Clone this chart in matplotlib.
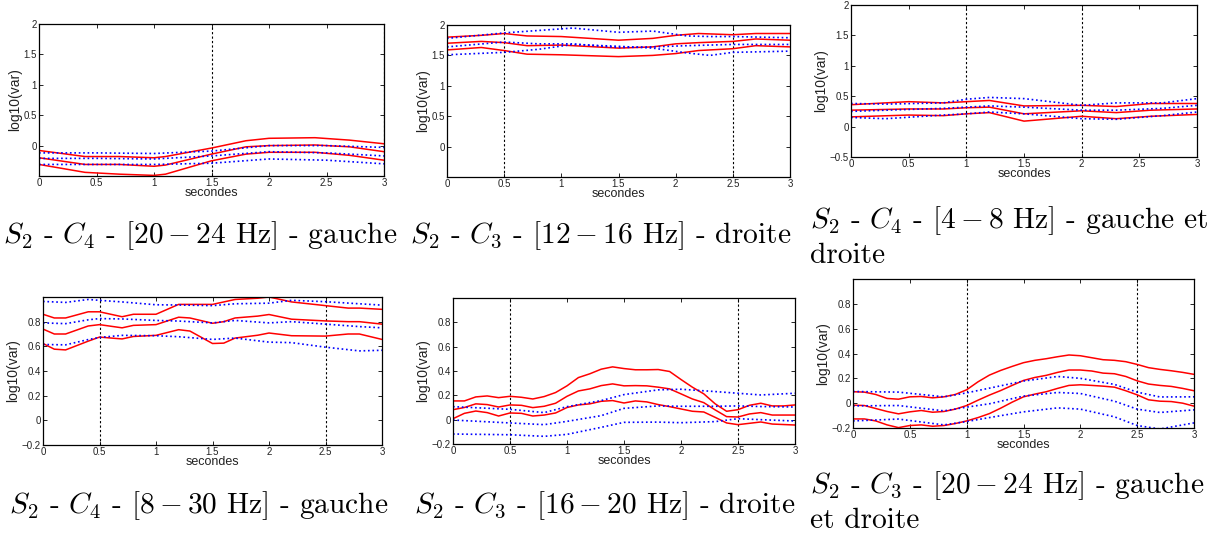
import numpy as np
import matplotlib
matplotlib.use("Agg")
import matplotlib.pyplot as plt

plt.rcParams['mathtext.fontset'] = 'cm'
plt.rcParams['font.family'] = ['Liberation Sans', 'DejaVu Sans']

# ---- panel 1 : S2 - C4 - [20-24 Hz] - gauche
p1_rx = [0, 0.4, 0.7, 1.0, 1.1, 1.5, 1.8, 2.0, 2.4, 2.7, 3.0]
p1_r_top = [-0.08, -0.18, -0.18, -0.20, -0.18, -0.04, 0.08, 0.12, 0.13, 0.09, 0.03]
p1_r_mid = [-0.20, -0.31, -0.31, -0.34, -0.32, -0.14, -0.02, 0.0, 0.01, -0.02, -0.10]
p1_r_bot = [-0.31, -0.44, -0.47, -0.49, -0.47, -0.25, -0.14, -0.11, -0.11, -0.16, -0.24]
p1_bx = [0, 0.5, 1.0, 1.5, 2.0, 2.5, 3.0]
p1_b_top = [-0.12, -0.12, -0.13, -0.09, 0.0, 0.0, -0.03]
p1_b_mid = [-0.21, -0.21, -0.22, -0.17, -0.10, -0.12, -0.17]
p1_b_bot = [-0.31, -0.31, -0.31, -0.29, -0.22, -0.24, -0.30]

# ---- panel 2 : S2 - C3 - [12-16 Hz] - droite
p2_rx = [0, 0.3, 0.5, 0.7, 1.0, 1.5, 1.8, 2.0, 2.2, 2.5, 2.7, 3.0]
p2_r_top = [1.80, 1.83, 1.86, 1.82, 1.81, 1.75, 1.78, 1.83, 1.86, 1.84, 1.86, 1.86]
p2_r_mid = [1.70, 1.73, 1.71, 1.66, 1.67, 1.62, 1.64, 1.69, 1.71, 1.73, 1.77, 1.75]
p2_r_bot = [1.59, 1.63, 1.58, 1.52, 1.51, 1.48, 1.50, 1.53, 1.58, 1.61, 1.66, 1.64]
p2_bx = [0, 0.5, 0.8, 1.1, 1.5, 1.8, 2.1, 2.3, 2.5, 3.0]
p2_b_top = [1.78, 1.87, 1.91, 1.95, 1.88, 1.90, 1.82, 1.81, 1.81, 1.79]
p2_b_mid = [1.64, 1.72, 1.69, 1.69, 1.63, 1.64, 1.66, 1.67, 1.68, 1.68]
p2_b_bot = [1.51, 1.55, 1.60, 1.68, 1.65, 1.62, 1.54, 1.50, 1.55, 1.57]

# ---- panel 3 : S2 - C4 - [4-8 Hz] - gauche et droite
p3_rx = [0, 0.5, 0.8, 1.0, 1.2, 1.5, 2.0, 2.3, 2.6, 3.0]
p3_r_top = [0.36, 0.41, 0.39, 0.41, 0.43, 0.34, 0.35, 0.33, 0.38, 0.38]
p3_r_mid = [0.27, 0.29, 0.29, 0.31, 0.32, 0.21, 0.26, 0.23, 0.27, 0.29]
p3_r_bot = [0.16, 0.19, 0.18, 0.21, 0.23, 0.09, 0.17, 0.13, 0.17, 0.20]
p3_bx = [0, 0.3, 0.8, 1.0, 1.2, 1.5, 2.0, 2.3, 2.7, 3.0]
p3_b_top = [0.38, 0.37, 0.39, 0.45, 0.48, 0.46, 0.35, 0.39, 0.39, 0.46]
p3_b_mid = [0.25, 0.27, 0.30, 0.32, 0.34, 0.32, 0.27, 0.27, 0.30, 0.35]
p3_b_bot = [0.15, 0.13, 0.19, 0.21, 0.24, 0.21, 0.13, 0.12, 0.18, 0.24]

# ---- panel 4 : S2 - C4 - [8-30 Hz] - gauche
p4_rx = [0, 0.1, 0.2, 0.4, 0.5, 0.7, 0.8, 1.0, 1.2, 1.3, 1.5, 1.6, 1.7, 1.9, 2.0, 2.2, 2.5, 2.7, 2.8, 3.0]
p4_r_top = [0.86, 0.83, 0.83, 0.88, 0.88, 0.84, 0.86, 0.86, 0.94, 0.94, 0.94, 0.96, 0.98, 0.99, 1.0, 0.96, 0.93, 0.91, 0.91, 0.90]
p4_r_mid = [0.74, 0.70, 0.70, 0.765, 0.776, 0.75, 0.77, 0.776, 0.836, 0.83, 0.787, 0.80, 0.83, 0.845, 0.858, 0.82, 0.806, 0.80, 0.80, 0.78]
p4_r_bot = [0.623, 0.577, 0.571, 0.642, 0.675, 0.66, 0.68, 0.689, 0.735, 0.724, 0.623, 0.626, 0.667, 0.69, 0.708, 0.686, 0.683, 0.70, 0.70, 0.656]
p4_bx = [0, 0.2, 0.4, 0.5, 0.7, 1.0, 1.2, 1.5, 1.7, 2.0, 2.2, 2.5, 2.8, 3.0]
p4_b_top = [0.964, 0.956, 0.98, 0.973, 0.96, 0.937, 0.935, 0.93, 0.945, 0.95, 0.973, 0.962, 0.945, 0.934]
p4_b_mid = [0.79, 0.784, 0.815, 0.825, 0.822, 0.81, 0.805, 0.79, 0.81, 0.79, 0.80, 0.78, 0.76, 0.75]
p4_b_bot = [0.615, 0.612, 0.655, 0.672, 0.689, 0.686, 0.678, 0.656, 0.667, 0.634, 0.63, 0.593, 0.563, 0.568]

# ---- panel 5 : S2 - C3 - [16-20 Hz] - droite
p5_rx = [0, 0.1, 0.2, 0.3, 0.4, 0.5, 0.6, 0.7, 0.8, 0.9, 1.0, 1.1, 1.2, 1.3, 1.4, 1.5,
         1.6, 1.7, 1.8, 1.9, 2.0, 2.1, 2.2, 2.3, 2.4, 2.5, 2.6, 2.7, 2.8, 2.9, 3.0]
p5_r_top = [0.154, 0.154, 0.187, 0.195, 0.181, 0.192, 0.184, 0.17, 0.19, 0.223, 0.278, 0.346, 0.377, 0.415, 0.434, 0.42,
            0.41, 0.41, 0.412, 0.396, 0.33, 0.267, 0.212, 0.13, 0.069, 0.082, 0.118, 0.135, 0.113, 0.113, 0.121]
p5_r_mid = [0.082, 0.10, 0.13, 0.124, 0.104, 0.121, 0.118, 0.099, 0.11, 0.135, 0.192, 0.236, 0.253, 0.28, 0.294, 0.278,
            0.28, 0.278, 0.267, 0.253, 0.212, 0.17, 0.14, 0.08, 0.025, 0.022, 0.047, 0.058, 0.038, 0.038, 0.038]
p5_r_bot = [0.008, 0.052, 0.071, 0.058, 0.03, 0.055, 0.052, 0.03, 0.038, 0.055, 0.10, 0.121, 0.13, 0.151, 0.157, 0.137,
            0.154, 0.146, 0.124, 0.107, 0.088, 0.069, 0.063, 0.019, -0.027, -0.041, -0.03, -0.019, -0.036, -0.04, -0.044]
p5_bx = [0, 0.5, 0.8, 1.0, 1.3, 1.5, 1.8, 2.0, 2.3, 2.5, 2.7, 3.0]
p5_b_top = [0.107, 0.085, 0.058, 0.107, 0.157, 0.206, 0.245, 0.25, 0.231, 0.217, 0.203, 0.217]
p5_b_mid = [-0.003, -0.027, -0.041, -0.014, 0.033, 0.093, 0.113, 0.11, 0.11, 0.113, 0.108, 0.104]
p5_b_bot = [-0.118, -0.124, -0.137, -0.121, -0.063, -0.022, -0.02, -0.025, -0.016, 0.008, 0.0, -0.011]

# ---- panel 6 : S2 - C3 - [20-24 Hz] - gauche et droite
p6_rx = p5_rx
p6_r_top = [0.092, 0.089, 0.07, 0.038, 0.032, 0.051, 0.054, 0.043, 0.051, 0.07, 0.108, 0.172, 0.226, 0.264, 0.296, 0.326,
            0.345, 0.358, 0.374, 0.388, 0.382, 0.366, 0.35, 0.345, 0.334, 0.312, 0.286, 0.272, 0.261, 0.248, 0.232]
p6_r_mid = [-0.016, -0.019, -0.043, -0.067, -0.086, -0.07, -0.059, -0.073, -0.067, -0.048, -0.019, 0.024, 0.065, 0.102, 0.143, 0.183,
            0.207, 0.224, 0.248, 0.267, 0.267, 0.259, 0.242, 0.237, 0.215, 0.18, 0.154, 0.143, 0.135, 0.119, 0.10]
p6_r_bot = [-0.127, -0.127, -0.143, -0.175, -0.197, -0.18, -0.175, -0.186, -0.18, -0.164, -0.143, -0.116, -0.084, -0.04, 0.008, 0.051,
            0.073, 0.092, 0.119, 0.143, 0.148, 0.143, 0.137, 0.129, 0.10, 0.067, 0.027, 0.016, 0.013, 0.0, -0.024]
p6_bx = [0, 0.4, 0.8, 1.0, 1.2, 1.5, 1.8, 2.0, 2.3, 2.5, 2.7, 3.0]
p6_b_top = [0.094, 0.089, 0.051, 0.083, 0.121, 0.178, 0.215, 0.2, 0.151, 0.089, 0.05, 0.051]
p6_b_mid = [-0.022, -0.019, -0.062, -0.032, -0.005, 0.057, 0.086, 0.078, 0.016, -0.048, -0.075, -0.054]
p6_b_bot = [-0.143, -0.128, -0.175, -0.148, -0.116, -0.07, -0.038, -0.048, -0.11, -0.18, -0.208, -0.159]

vlines = [[1.5, 3.0], [0.5, 2.5], [1.0, 2.0], [0.5, 2.5], [0.5, 2.5], [1.0, 2.5]]
ylims = [(-0.5, 2), (-0.5, 2), (-0.5, 2), (-0.2, 1.0), (-0.2, 1.0), (-0.2, 1.0)]
yticks = [[0, 0.5, 1, 1.5, 2], [0, 0.5, 1, 1.5, 2], [-0.5, 0, 0.5, 1, 1.5, 2],
          [-0.2, 0, 0.2, 0.4, 0.6, 0.8], [-0.2, 0, 0.2, 0.4, 0.6, 0.8], [-0.2, 0, 0.2, 0.4, 0.6, 0.8]]

captions = [
    [r"$S_2$ - $C_4$ - [$20-24$ Hz] - gauche"],
    [r"$S_2$ - $C_3$ - [$12-16$ Hz] - droite"],
    [r"$S_2$ - $C_4$ - [$4-8$ Hz] - gauche et", "droite"],
    [r"$S_2$ - $C_4$ - [$8-30$ Hz] - gauche"],
    [r"$S_2$ - $C_3$ - [$16-20$ Hz] - droite"],
    [r"$S_2$ - $C_3$ - [$20-24$ Hz] - gauche", "et droite"],
]

panels = [
    (p1_rx, [p1_r_top, p1_r_mid, p1_r_bot], p1_bx, [p1_b_top, p1_b_mid, p1_b_bot]),
    (p2_rx, [p2_r_top, p2_r_mid, p2_r_bot], p2_bx, [p2_b_top, p2_b_mid, p2_b_bot]),
    (p3_rx, [p3_r_top, p3_r_mid, p3_r_bot], p3_bx, [p3_b_top, p3_b_mid, p3_b_bot]),
    (p4_rx, [p4_r_top, p4_r_mid, p4_r_bot], p4_bx, [p4_b_top, p4_b_mid, p4_b_bot]),
    (p5_rx, [p5_r_top, p5_r_mid, p5_r_bot], p5_bx, [p5_b_top, p5_b_mid, p5_b_bot]),
    (p6_rx, [p6_r_top, p6_r_mid, p6_r_bot], p6_bx, [p6_b_top, p6_b_mid, p6_b_bot]),
]

# axes boxes in pixels (left, top, right, bottom) measured on the 1224x535 picture
boxes = [(39, 24, 384, 176), (447, 25, 790, 177), (851, 5, 1197, 157),
         (43, 297, 382, 445), (453, 298, 795, 444), (853, 279, 1194, 428)]
# caption: left x and baseline y of the first line, in pixels
cap_pos = [(3, 243), (410, 243), (810, 228), (9, 513), (414, 513), (810, 493)]
line_gap = 35

W, H = 1224, 535
fig = plt.figure(figsize=(W / 100, H / 100), dpi=100)

for i, (rx, reds, bx, blues) in enumerate(panels):
    l, t, r, b = boxes[i]
    ax = fig.add_axes([l / W, 1 - b / H, (r - l) / W, (b - t) / H])
    for v in vlines[i]:
        ax.axvline(v, color='black', linestyle=(0, (2, 2)), linewidth=0.8)
    for yy in reds:
        ax.plot(rx, yy, color='red', linewidth=1.1)
    for yy in blues:
        ax.plot(bx, yy, color='blue', linestyle=':', linewidth=1.2)
    ax.set_xlim(0, 3)
    ax.set_ylim(*ylims[i])
    ax.set_xticks([0, 0.5, 1, 1.5, 2, 2.5, 3])
    ax.set_xticklabels(['0', '0.5', '1', '1.5', '2', '2.5', '3'])
    ax.set_yticks(yticks[i])
    ax.set_yticklabels([('%g' % v).replace('-', '\u2212') for v in yticks[i]])
    ax.tick_params(direction='in', top=True, right=True, labelsize=7,
                   length=3, width=0.6, pad=1.5, labelcolor='#222222')
    for s in ax.spines.values():
        s.set_linewidth(0.9)
    ax.set_xlabel('secondes', fontsize=9, labelpad=-1, color='#222222')
    ax.set_ylabel('log10(var)', fontsize=10, labelpad=1, color='#222222')

    cx, cy = cap_pos[i]
    for k, line in enumerate(captions[i]):
        fig.text(cx / W, 1 - (cy + k * line_gap) / H, line, fontsize=21.2,
                 family='cmr10', ha='left', va='baseline')

fig.savefig('out.png', dpi=100)
